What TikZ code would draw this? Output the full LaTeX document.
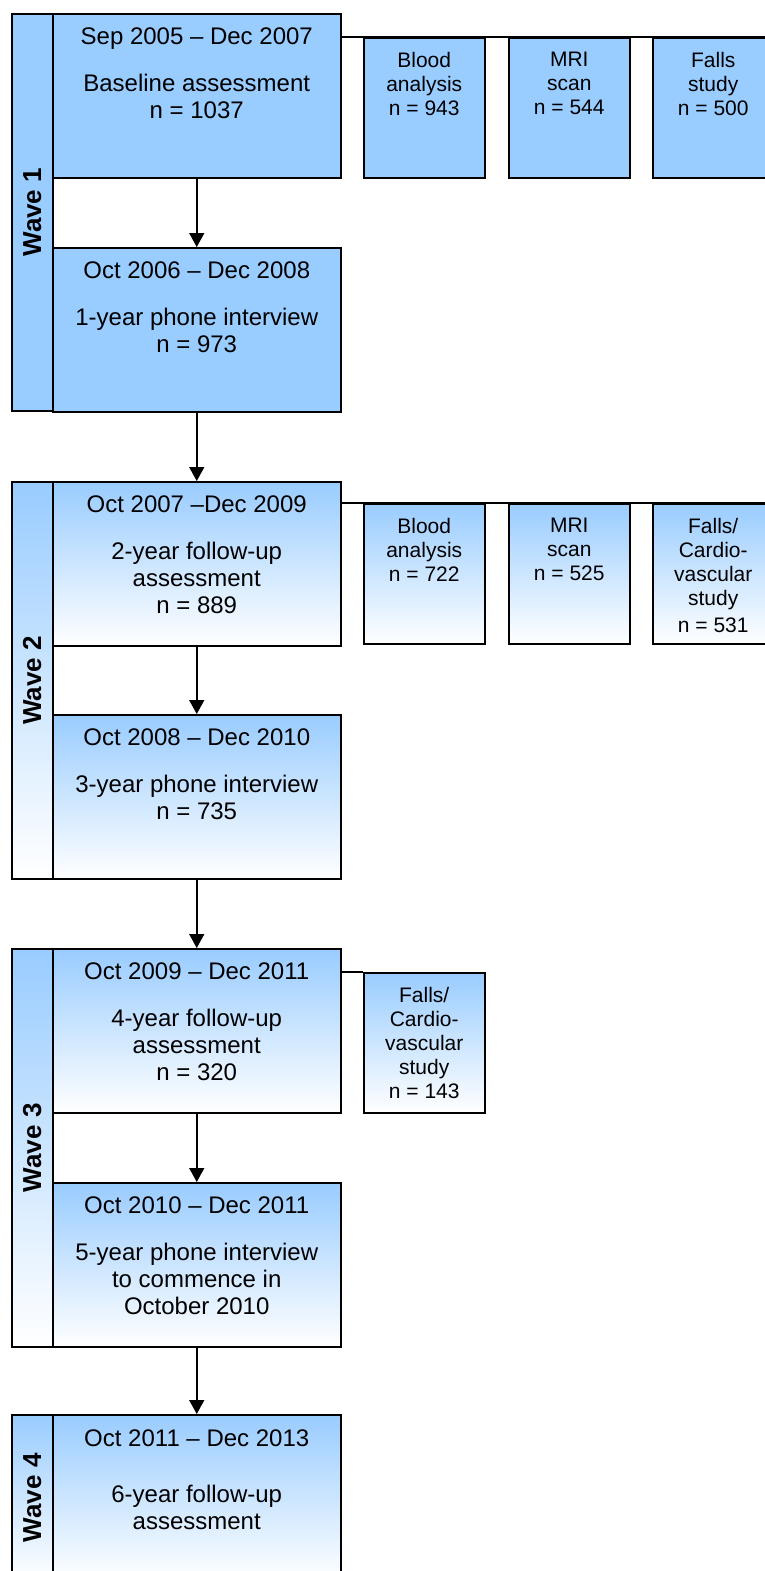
\documentclass[tikz,border=0pt]{standalone}
\usepackage{fontspec}
\setmainfont{Liberation Sans}
\usetikzlibrary{positioning,arrows.meta}
\definecolor{waveblue}{HTML}{99CCFF}
\tikzset{
  cell/.style={draw, line width=0.75pt, inner sep=0pt, anchor=north west},
  flatfill/.style={fill=waveblue},
  fadefill/.style={top color=waveblue, bottom color=white},
  mainbox/.style={cell, minimum width=144pt, minimum height=82pt},
  sidebox/.style={cell, minimum width=60.5pt, minimum height=70pt},
  wavebox/.style={cell, minimum width=20.5pt},
  maintext/.style={align=center, inner sep=0pt, font=\fontsize{12}{13.5}\selectfont},
  sidetext/.style={align=center, inner sep=0pt, font=\fontsize{10.5}{12}\selectfont},
  wavetext/.style={rotate=90, inner sep=0pt, font=\fontsize{13}{15}\selectfont\bfseries},
  joinline/.style={line width=0.75pt},
  nextarrow/.style={line width=0.75pt, -{Triangle[length=7pt,width=7.5pt]}},
}
\begin{document}
\begin{tikzpicture}[x=0.5pt, y=-0.5pt]
    \useasboundingbox (0,0) rectangle (765,1571);
    \clip (0,0) rectangle (765,1571);

    % wave columns
    \node[wavebox, flatfill, minimum height=198.5pt] (w1) at (11,13) {};
    \node[wavebox, fadefill, minimum height=198.5pt] (w2) at (11,481) {};
    \node[wavebox, fadefill, minimum height=199pt] (w3) at (11,948) {};
    \node[wavebox, fadefill, minimum height=83pt] (w4) at (11,1414) {};
    \foreach \w in {1,...,4} {
        \node[wavetext] (wl\w) at (w\w.center) {Wave \w};
    }

    % main boxes
    \node[mainbox, flatfill] (b11) at (52,13) {};
    \node[mainbox, flatfill] (b12) at (52,247) {};
    \node[mainbox, fadefill] (b21) at (52,481) {};
    \node[mainbox, fadefill] (b22) at (52,714) {};
    \node[mainbox, fadefill] (b31) at (52,948) {};
    \node[mainbox, fadefill] (b32) at (52,1182) {};
    \node[mainbox, fadefill, minimum height=83pt] (b41) at (52,1414) {};

    \node[maintext, below=7.2pt of b11.north] (t11) {Sep 2005 – Dec 2007\\[10pt]Baseline assessment\\n = 1037};
    \node[maintext, below=7.2pt of b12.north] (t12) {Oct 2006 – Dec 2008\\[10pt]1-year phone interview\\n = 973};
    \node[maintext, below=7.2pt of b21.north] (t21) {Oct 2007 –Dec 2009\\[10pt]2-year follow-up\\assessment\\n = 889};
    \node[maintext, below=7.2pt of b22.north] (t22) {Oct 2008 – Dec 2010\\[10pt]3-year phone interview\\n = 735};
    \node[maintext, below=7.2pt of b31.north] (t31) {Oct 2009 – Dec 2011\\[10pt]4-year follow-up\\assessment\\n = 320};
    \node[maintext, below=7.2pt of b32.north] (t32) {Oct 2010 – Dec 2011\\[10pt]5-year phone interview\\to commence in\\October 2010};
    \node[maintext, below=7.7pt of b41.north] (t41) {Oct 2011 – Dec 2013\\[14.5pt]6-year follow-up\\assessment};

    % side boxes
    \node[sidebox, flatfill] (s11) at (363,37) {};
    \node[sidebox, flatfill] (s12) at (508,37) {};
    \node[sidebox, flatfill] (s13) at (652,37) {};
    \node[sidebox, fadefill] (s21) at (363,503) {};
    \node[sidebox, fadefill] (s22) at (508,503) {};
    \node[sidebox, fadefill] (s23) at (652,503) {};
    \node[sidebox, fadefill] (s31) at (363,972) {};

    \node[sidetext, below=7.3pt of s11.north] (u11) {Blood\\analysis\\n = 943};
    \node[sidetext, below=7.3pt of s12.north] (u12) {MRI\\scan\\n = 544};
    \node[sidetext, below=7.3pt of s13.north] (u13) {Falls\\study\\n = 500};
    \node[sidetext, below=7.3pt of s21.north] (u21) {Blood\\analysis\\n = 722};
    \node[sidetext, below=7.3pt of s22.north] (u22) {MRI\\scan\\n = 525};
    \node[sidetext, below=7.3pt of s23.north] (u23) {Falls/\\Cardio-\\vascular\\study\\[1.5pt]n = 531};
    \node[sidetext, below=7.3pt of s31.north] (u31) {Falls/\\Cardio-\\vascular\\study\\n = 143};

    % links to side studies
    \draw[joinline] (b11.east |- s11.north) -- (s13.north east);
    \draw[joinline] (b21.east |- s21.north) -- (s23.north east);
    \draw[joinline] (b31.east |- s31.north) -- (s31.north west);

    % flow down
    \foreach \a/\b in {b11/b12, b12/b21, b21/b22, b22/b31, b31/b32, b32/b41} {
        \draw[nextarrow] (\a.south) -- (\b.north);
    }
\end{tikzpicture}
\end{document}
